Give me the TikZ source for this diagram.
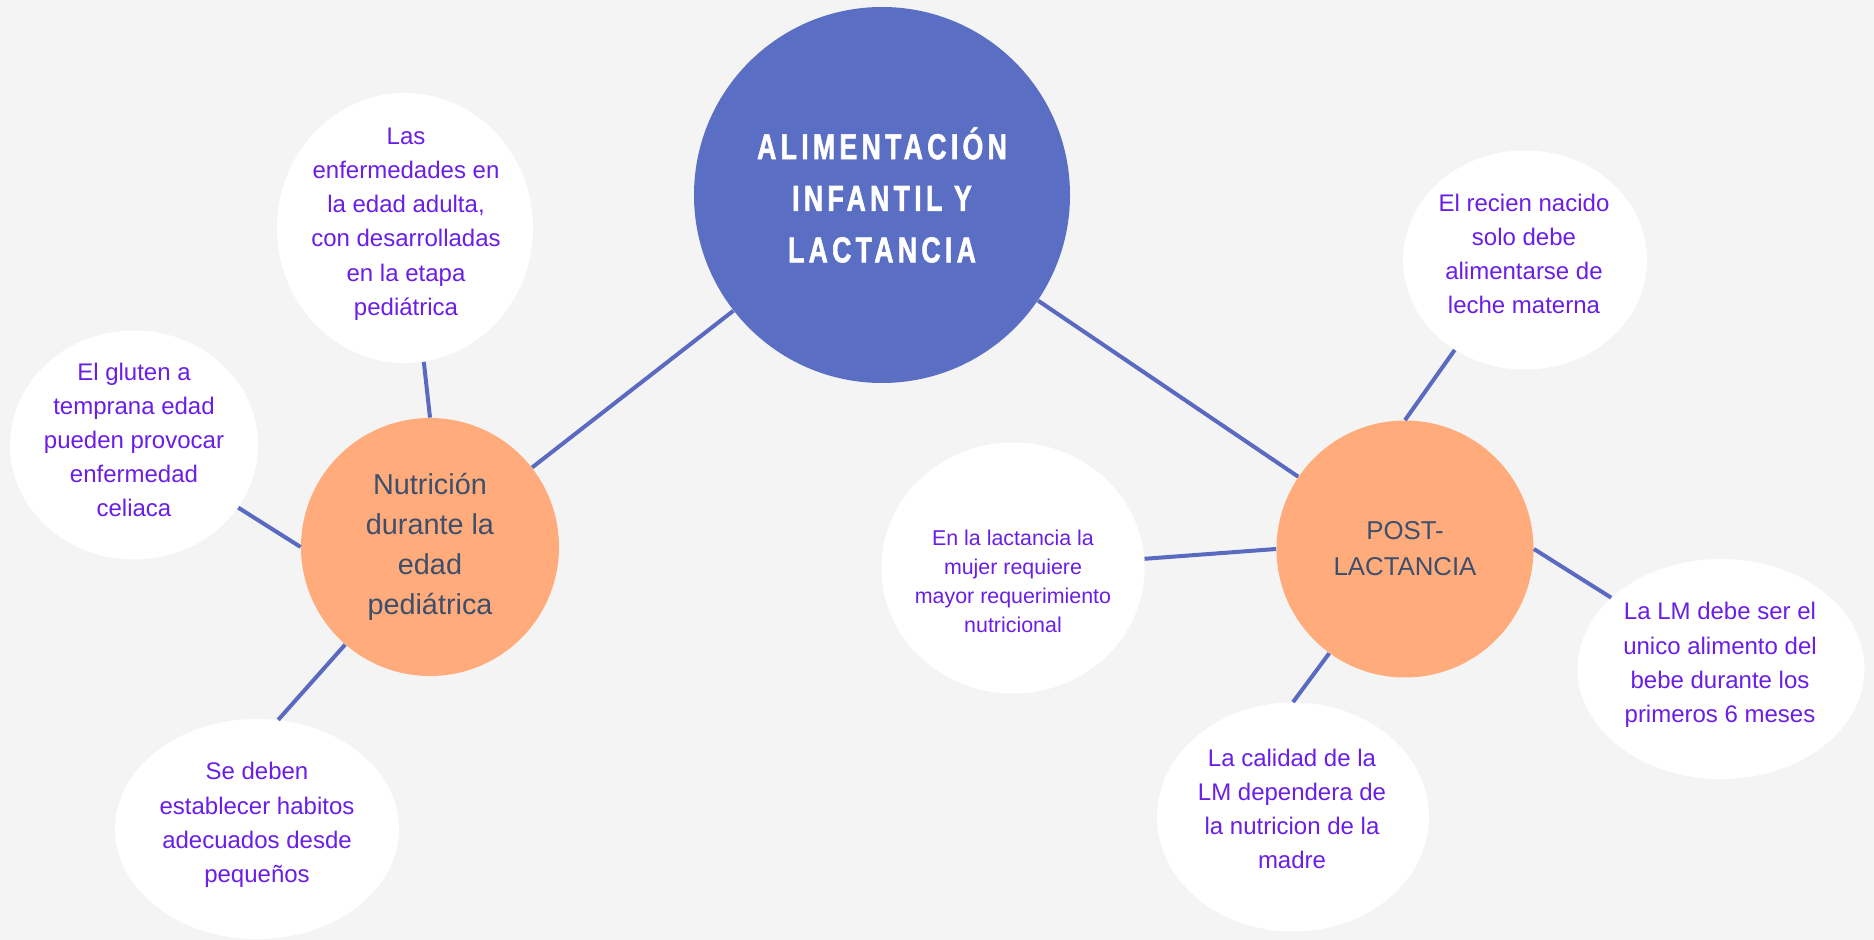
\documentclass[tikz,border=0pt]{standalone}
\usepackage{fontspec}
\setmainfont{Liberation Sans}
\newfontfamily\titlefont{Liberation Sans Bold}[LetterSpace=12,FakeStretch=0.74,FakeBold=1.6]
\usepackage{tikz}
\usetikzlibrary{shapes.geometric}
\definecolor{paper}{HTML}{F4F4F4}
\definecolor{hubblue}{HTML}{5A6EC4}
\definecolor{linkblue}{HTML}{5A6AC0}
\definecolor{peach}{HTML}{FFAB7B}
\definecolor{slate}{HTML}{3D4F6B}
\definecolor{notepurple}{HTML}{6A1EE6}

\begin{document}
\begin{tikzpicture}[x=0.5pt,y=-0.5pt,
		blob/.style={shape=ellipse,fill=white,inner sep=0pt},
		blobtext/.style={align=center,text=notepurple,inner sep=0pt,font=\fontsize{12}{17.1}\selectfont},
		hub/.style={shape=circle,fill=peach,inner sep=0pt,align=center,text=slate},
		link/.style={draw=linkblue,line width=2pt}]
			\useasboundingbox (0,0) rectangle (1874,940);
			\fill[paper] (0,0) rectangle (1874,940);
			
			\node[shape=circle,fill=hubblue,inner sep=0pt,minimum size=188pt,align=center,text=white,font={\titlefont\fontsize{18}{25.8}\selectfont}] (main) at (882,195) {ALIMENTACIÓN\\INFANTIL Y\\LACTANCIA};
			\node[hub,minimum size=129pt,font=\fontsize{14.4}{20}\selectfont] (nutri) at (430,547) {Nutrición\\durante la\\edad\\pediátrica};
			\node[hub,minimum size=128.5pt,font=\fontsize{12.9}{18}\selectfont] (post) at (1405,549) {POST-\\LACTANCIA};
			
			\node[blob,minimum width=128pt,minimum height=135pt] (las) at (405,228) {};
			\node[blob,minimum width=124pt,minimum height=114.5pt] (gluten) at (134,445) {};
			\node[blob,minimum width=142pt,minimum height=110pt] (habitos) at (257,829) {};
			\node[blobtext] (las-t) at (406,224) {Las\\enfermedades en\\la edad adulta,\\con desarrolladas\\en la etapa\\pediátrica};
			\node[blobtext] (gluten-t) at (134,440) {El gluten a\\temprana edad\\pueden provocar\\enfermedad\\celiaca};
			\node[blobtext] (habitos-t) at (257,825) {Se deben\\establecer habitos\\adecuados desde\\pequeños};
			
			\node[blob,minimum width=122pt,minimum height=109.5pt] (recien) at (1525,260) {};
			\node[blob,minimum width=131.5pt,minimum height=125.5pt] (lactancia) at (1013,568) {};
			\node[blob,minimum width=143.5pt,minimum height=110pt] (lm) at (1721,669) {};
			\node[blob,minimum width=136pt,minimum height=114.5pt] (calidad) at (1293,817) {};
			\node[blobtext] (recien-t) at (1524,254) {El recien nacido\\solo debe\\alimentarse de\\leche materna};
			\node[blobtext,font=\fontsize{10.7}{14.5}\selectfont] (lactancia-t) at (1013,581) {En la lactancia la\\mujer requiere\\mayor requerimiento\\nutricional};
			\node[blobtext] (lm-t) at (1720,665) {La LM debe ser el\\unico alimento del\\bebe durante los\\primeros 6 meses};
			\node[blobtext] (calidad-t) at (1292,809) {La calidad de la\\LM dependera de\\la nutricion de la\\madre};
			
			\path[link](main) edge (nutri);
			\path[link](main) edge (post);
			\path[link](nutri.north) edge (las.-82);
			\path[link](nutri.west) edge (gluten.-31);
			\path[link](nutri.-131) edge (habitos.79);
			\path[link](post.north) edge (recien.-128);
			\path[link](post.west) edge (lactancia.4);
			\path[link](post.east) edge (lm.147);
			\path[link](post.-126) edge (calidad.north);
\end{tikzpicture}
\end{document}
